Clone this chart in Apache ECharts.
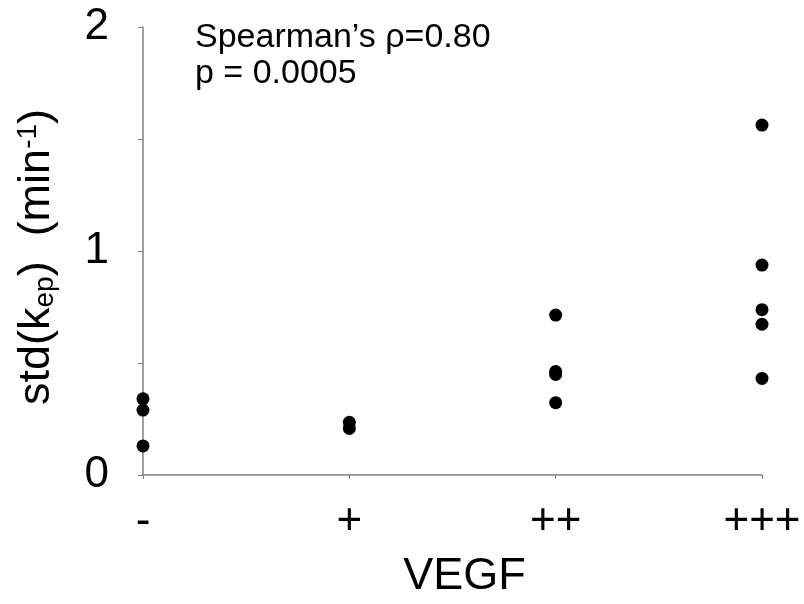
<!DOCTYPE html>
<html>
<head>
<meta charset="utf-8">
<title>VEGF vs std(kep)</title>
<script src="https://cdn.jsdelivr.net/npm/echarts@6/dist/echarts.min.js"></script>
<style>
  html, body { margin: 0; padding: 0; background: #fff; }
  #chart { width: 804px; height: 604px; }
</style>
</head>
<body>
<div id="chart"></div>
<script>
// VEGF 分组和每组的 std(kep) 值
var categories = ['-', '+', '++', '+++'];
var vegfNeg = [0.34, 0.29, 0.13];
var vegfPlus1 = [0.235, 0.208];
var vegfPlus2 = [0.714, 0.462, 0.449, 0.323];
var vegfPlus3 = [1.562, 0.937, 0.738, 0.673, 0.431];
var groups = [vegfNeg, vegfPlus1, vegfPlus2, vegfPlus3];

// 坐标轴刻度
var yMin = 0, yMax = 2, yStep = 0.5;

// 注释文字
var statsText = ['Spearman\u2019s \u03c1=0.80', 'p = 0.0005'];

var font = '"Liberation Sans", Arial, sans-serif';

// 组装散点数据 [类别, 值]
var points = [];
groups.forEach(function (vals, i) {
    vals.forEach(function (v) { points.push([categories[i], v]); });
});

var chart = echarts.init(document.getElementById('chart'));

var option = {
    backgroundColor: '#fff',
    animation: false,
    grid: { left: 143, right: 42, top: 27, bottom: 125 },
    xAxis: {
        type: 'category',
        data: categories,
        boundaryGap: false,
        name: 'VEGF',
        nameLocation: 'middle',
        nameGap: 79,
        nameTextStyle: { fontFamily: font, fontSize: 45, color: '#000', padding: [0, 0, 0, 24] },
        axisLine: { lineStyle: { color: '#808080', width: 1.5 } },
        axisTick: { length: 4, lineStyle: { color: '#808080' } },
        axisLabel: { margin: 25, fontFamily: font, fontSize: 44, color: '#000' },
        splitLine: { show: false }
    },
    yAxis: {
        type: 'value',
        min: yMin,
        max: yMax,
        interval: yStep,
        name: '{a|std(k}{sub|ep}{a|)  (min}{sup|-1}{a|)}',
        nameLocation: 'middle',
        nameRotate: 90,
        nameGap: 84,
        nameTextStyle: {
            padding: [0, 12, 0, 0],
            rich: {
                a: { fontFamily: font, fontSize: 45, lineHeight: 45, color: '#000' },
                sub: { fontFamily: font, fontSize: 28, lineHeight: 20, verticalAlign: 'bottom', color: '#000' },
                sup: { fontFamily: font, fontSize: 28, lineHeight: 26, verticalAlign: 'top', color: '#000' }
            }
        },
        axisLine: { show: true, lineStyle: { color: '#808080', width: 1.5 } },
        axisTick: { show: true, length: 5, lineStyle: { color: '#808080' } },
        axisLabel: {
            margin: 34,
            fontFamily: font,
            fontSize: 44,
            color: '#000',
            formatter: function (v) { return v % 1 === 0 ? String(v) : ''; }
        },
        splitLine: { show: false }
    },
    graphic: [{
        type: 'text',
        left: 195,
        top: 20,
        style: {
            text: statsText.join('\n'),
            fontFamily: font,
            fontSize: 34,
            lineHeight: 36,
            fill: '#000'
        }
    }],
    series: [{
        type: 'scatter',
        data: points,
        symbol: 'circle',
        symbolSize: 13,
        itemStyle: { color: '#000', opacity: 1 }
    }]
};

chart.setOption(option);
</script>
</body>
</html>
